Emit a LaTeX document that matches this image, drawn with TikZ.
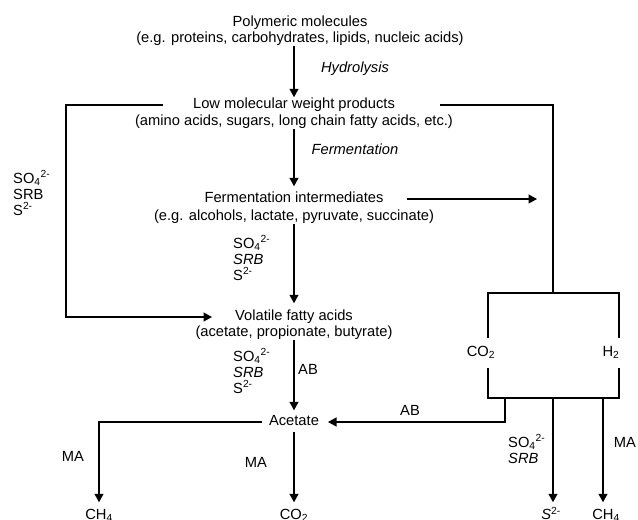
\documentclass[tikz,border=0pt]{standalone}
\usepackage{fontspec}
\setmainfont{Liberation Sans}
\usetikzlibrary{arrows.meta}
\begin{document}
\begin{tikzpicture}[x=1pt,y=-1pt,
  txt/.style={inner sep=0pt, outer sep=0pt, text height=10.5pt, text depth=3pt, font=\fontsize{14.7}{17.5}\selectfont},
  side/.style={inner sep=0pt, anchor=west, align=left, font=\fontsize{14.7}{16}\selectfont},
  arr/.style={-{Triangle[length=8.5pt,width=9pt]}, line width=1.35pt},
  ln/.style={line width=1.35pt}]
\useasboundingbox (0,0) rectangle (638,520);
% main chain
\node[txt] (poly) at (300,23) {Polymeric molecules};
\node[txt] (polysub) at (300,39) {(e.g. proteins, carbohydrates, lipids, nucleic acids)};
\node[txt] (low) at (294,105) {Low molecular weight products};
\node[txt] (lowsub) at (294,122) {(amino acids, sugars, long chain fatty acids, etc.)};
\node[txt] (ferm) at (294,199) {Fermentation intermediates};
\node[txt] (fermsub) at (294,217) {(e.g. alcohols, lactate, pyruvate, succinate)};
\node[txt] (vfa) at (294,317) {Volatile fatty acids};
\node[txt] (vfasub) at (294,333) {(acetate, propionate, butyrate)};
\node[txt] (acet) at (294,422) {Acetate};
\node[txt] (ch4a) at (99,516) {CH\textsubscript{4}};
\node[txt] (co2a) at (294,516) {CO\textsubscript{2}};
\node[txt] (s2) at (551,516) {\textit{S}\textsuperscript{2-}};
\node[txt] (ch4b) at (606,516) {CH\textsubscript{4}};
\node[txt] (co2) at (481,353) {CO\textsubscript{2}};
\node[txt] (h2) at (611,353) {H\textsubscript{2}};
% process labels
\node[txt, font=\fontsize{14.7}{17.5}\selectfont\itshape] (hyd) at (355,69) {Hydrolysis};
\node[txt, font=\fontsize{14.7}{17.5}\selectfont\itshape] (fer) at (355,151) {Fermentation};
\node[side] (lsrb) at (13,193) {SO\textsubscript{4}\textsuperscript{2-}\\SRB\\S\textsuperscript{2-}};
\node[side] (msrb1) at (233,258) {SO\textsubscript{4}\textsuperscript{2-}\\\textit{SRB}\\S\textsuperscript{2-}};
\node[side] (msrb2) at (233,371) {SO\textsubscript{4}\textsuperscript{2-}\\\textit{SRB}\\S\textsuperscript{2-}};
\node[side] (rsrb) at (508,449) {SO\textsubscript{4}\textsuperscript{2-}\\\textit{SRB}};
\node[txt] (ab1) at (308,371) {AB};
\node[txt] (ab2) at (410,412) {AB};
\node[txt] (ma1) at (73,458) {MA};
\node[txt] (ma2) at (256,464) {MA};
\node[txt] (ma3) at (625,444) {MA};
% free ends and corners
\coordinate (lowL) at (163,105);
\coordinate (lowR) at (440,105);
\coordinate (lbus) at (66,105);
\coordinate (vfaL) at (212,317);
\coordinate (fermR) at (407,199);
\coordinate (fermT) at (537,199);
\coordinate (boxT) at (553,293);
\coordinate (bTL) at (488,293);
\coordinate (bTR) at (619,293);
\coordinate (bBL) at (488,398);
\coordinate (bBR) at (619,398);
\coordinate (bOut) at (505,398);
\coordinate (bS) at (553,398);
\coordinate (bM) at (603,398);
\coordinate (acetR) at (328,422);
\coordinate (acetL) at (262,422);
% vertical chain arrows
\draw[arr] (low.north |- polysub.south) -- ([yshift=1pt]low.north);
\draw[arr] (lowsub.south) -- ([yshift=6pt]ferm.north);
\draw[arr] (fermsub.south) -- ([yshift=7pt]vfa.north);
\draw[arr] (vfasub.south) -- ([yshift=5pt]acet.north);
\draw[arr] ([yshift=-3pt]acet.south) -- ([yshift=7pt]co2a.north);
% left loop
\draw[arr] (lowL) -- (lbus) |- (vfaL);
% right
\draw[ln] (lowR) -| (boxT);
\draw[arr] (fermR) -- (fermT);
\draw[ln] (488,338) -- (bTL) -- (bTR) -- (619,338);
\draw[ln] (488,368) -- (bBL) -- (bBR) -- (619,368);
\draw[arr] (bOut) |- (acetR);
\draw[arr] (acetL) -| ([yshift=7pt]ch4a.north);
\draw[arr] (bS) -- ([yshift=7pt]s2.north -| bS);
\draw[arr] (bM) -- ([yshift=7pt]ch4b.north -| bM);
\end{tikzpicture}
\end{document}
